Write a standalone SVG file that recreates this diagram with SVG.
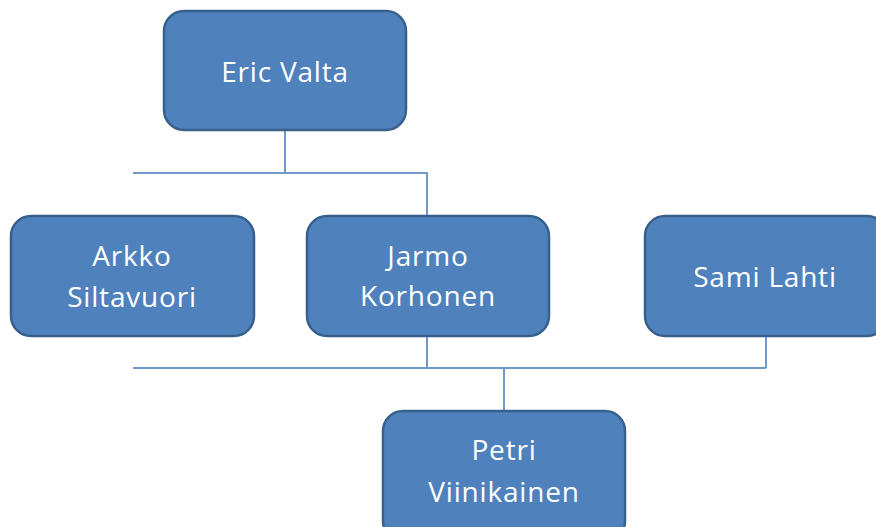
<svg xmlns="http://www.w3.org/2000/svg" width="876" height="527" viewBox="0 0 876 527">
  <style>
    .box { fill: #4f81bd; stroke: #38608d; stroke-width: 2.5; }
    .lbl { fill: #ffffff; font-family: "Open Sans", "Liberation Sans", sans-serif; font-size: 28px; letter-spacing: 0.8px; text-anchor: middle; }
    .conn { fill: none; stroke: #7298c9; stroke-width: 2; }
  </style>
  <rect width="876" height="527" fill="#ffffff"/>

  <g id="connectors">
    <path class="conn" d="M285,131 V173 M133,173 H427 V216"/>
    <path class="conn" d="M427,337 V368 M766,337 V368 M133,368 H766 M504,368 V411"/>
  </g>

  <g id="eric-valta">
    <rect class="box" x="164" y="11" width="242" height="119" rx="20"/>
    <text class="lbl" x="285" y="82">Eric Valta</text>
  </g>

  <g id="arkko-siltavuori">
    <rect class="box" x="11" y="216" width="243" height="120" rx="20"/>
    <text class="lbl" x="132" y="266">Arkko</text>
    <text class="lbl" x="132" y="307">Siltavuori</text>
  </g>

  <g id="jarmo-korhonen">
    <rect class="box" x="307" y="216" width="242" height="120" rx="20"/>
    <text class="lbl" x="428" y="266">Jarmo</text>
    <text class="lbl" x="428" y="306">Korhonen</text>
  </g>

  <g id="sami-lahti">
    <rect class="box" x="645" y="216" width="242" height="120" rx="20"/>
    <text class="lbl" x="765" y="287">Sami Lahti</text>
  </g>

  <g id="petri-viinikainen">
    <rect class="box" x="383" y="411" width="242" height="130" rx="20"/>
    <text class="lbl" x="504" y="460">Petri</text>
    <text class="lbl" x="504" y="502">Viinikainen</text>
  </g>
</svg>
